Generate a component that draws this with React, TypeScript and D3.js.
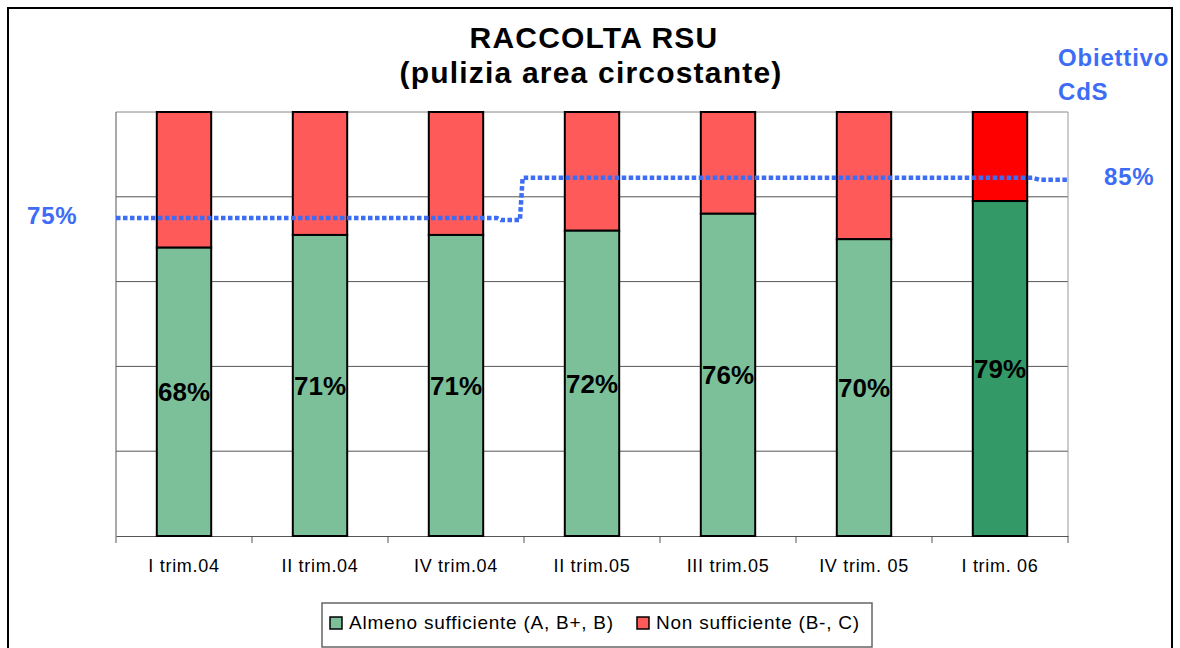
import React, { useRef, useEffect } from "react";
import * as d3 from "d3";

const categories = [
  "I trim.04",
  "II trim.04",
  "IV trim.04",
  "II trim.05",
  "III trim.05",
  "IV trim. 05",
  "I trim. 06",
];
const sufficient = [68, 71, 71, 72, 76, 70, 79];
const notSufficient = [32, 29, 29, 28, 24, 30, 21];
const highlighted = [false, false, false, false, false, false, true];

// objective (CdS) line, x in category units, y in %
const objectiveX = [0, 2.8, 2.83, 2.97, 2.99, 6.74, 6.79, 7];
const objectiveY = [75, 75, 74.5, 74.5, 84.5, 84.5, 84, 84];

const legendLabels = ["Almeno sufficiente (A, B+, B)", "Non sufficiente (B-, C)"];

const W = 1180;
const H = 648;
const FONT = "'Liberation Sans', Arial, sans-serif";
const BLUE = "#3d6cf5";

export default function App() {
  const ref = useRef<SVGSVGElement | null>(null);

  useEffect(() => {
    const svg = d3.select(ref.current);
    svg.selectAll("*").remove();

    const plot = { left: 116, right: 1068, top: 112, bottom: 536 };

    // outer frame
    svg
      .append("rect")
      .attr("x", 8)
      .attr("y", 8)
      .attr("width", 1164)
      .attr("height", 660)
      .attr("fill", "#fff")
      .attr("stroke", "#000")
      .attr("stroke-width", 2);

    const x = d3
      .scaleBand<string>()
      .domain(categories)
      .range([plot.left, plot.right])
      .paddingInner(0.6)
      .paddingOuter(0.3);
    const xc = d3.scaleLinear().domain([0, 7]).range([plot.left, plot.right]);
    const y = d3.scaleLinear().domain([0, 100]).range([plot.bottom, plot.top]);

    // gridlines
    svg
      .append("g")
      .selectAll("line")
      .data([20, 40, 60, 80, 100])
      .enter()
      .append("line")
      .attr("x1", plot.left)
      .attr("x2", plot.right)
      .attr("y1", (d) => y(d))
      .attr("y2", (d) => y(d))
      .attr("stroke", (d) => (d === 100 ? "#888" : "#555"))
      .attr("stroke-width", 1);

    // plot sides
    svg
      .append("line")
      .attr("x1", plot.left)
      .attr("x2", plot.left)
      .attr("y1", plot.top)
      .attr("y2", plot.bottom)
      .attr("stroke", "#555");
    svg
      .append("line")
      .attr("x1", plot.right)
      .attr("x2", plot.right)
      .attr("y1", plot.top)
      .attr("y2", plot.bottom)
      .attr("stroke", "#999");

    // bottom axis
    const axis = svg
      .append("g")
      .attr("transform", `translate(0,${plot.bottom})`)
      .call(d3.axisBottom(x).tickSize(0).tickPadding(23) as any);
    axis.select(".domain").attr("stroke", "#555");
    axis
      .selectAll("text")
      .attr("font-family", FONT)
      .attr("font-size", 18)
      .attr("letter-spacing", 0.7)
      .attr("fill", "#000");
    axis
      .selectAll(".edge")
      .data(d3.range(8))
      .enter()
      .append("line")
      .attr("class", "edge")
      .attr("x1", (d) => xc(d))
      .attr("x2", (d) => xc(d))
      .attr("y1", 0)
      .attr("y2", 7)
      .attr("stroke", "#555");

    // stacked bars
    const bars = svg.append("g");
    categories.forEach((c, i) => {
      const hi = highlighted[i];
      bars
        .append("rect")
        .attr("x", x(c)!)
        .attr("y", y(sufficient[i] + notSufficient[i]))
        .attr("width", x.bandwidth())
        .attr("height", y(sufficient[i]) - y(sufficient[i] + notSufficient[i]))
        .attr("fill", hi ? "#ff0000" : "#ff5a5a")
        .attr("stroke", "#000")
        .attr("stroke-width", 2);
      bars
        .append("rect")
        .attr("x", x(c)!)
        .attr("y", y(sufficient[i]))
        .attr("width", x.bandwidth())
        .attr("height", y(0) - y(sufficient[i]))
        .attr("fill", hi ? "#339966" : "#7cc09a")
        .attr("stroke", "#000")
        .attr("stroke-width", 2);
      bars
        .append("text")
        .attr("x", x(c)! + x.bandwidth() / 2)
        .attr("y", (y(0) + y(sufficient[i])) / 2)
        .attr("dy", "0.36em")
        .attr("text-anchor", "middle")
        .attr("font-family", FONT)
        .attr("font-weight", "bold")
        .attr("font-size", 26)
        .attr("fill", "#000")
        .text(`${sufficient[i]}%`);
    });

    // objective line
    const line = d3
      .line<number>()
      .x((d, i) => xc(objectiveX[i]))
      .y((d) => y(d));
    svg
      .append("path")
      .datum(objectiveY)
      .attr("fill", "none")
      .attr("stroke", BLUE)
      .attr("stroke-width", 4.5)
      .attr("stroke-dasharray", "4.5 2.5")
      .attr("stroke-linejoin", "round")
      .attr("d", line);

    // title
    const title = svg
      .append("text")
      .attr("text-anchor", "middle")
      .attr("font-family", FONT)
      .attr("font-weight", "bold")
      .attr("font-size", 30)
      .attr("letter-spacing", 1.2)
      .attr("fill", "#000");
    title.append("tspan").attr("x", 594).attr("y", 48).text("RACCOLTA RSU");
    title
      .append("tspan")
      .attr("x", 591)
      .attr("y", 83)
      .text("(pulizia area circostante)");

    // objective labels
    const lab = (t: string, lx: number, ly: number) =>
      svg
        .append("text")
        .attr("x", lx)
        .attr("y", ly)
        .attr("font-family", FONT)
        .attr("font-weight", "bold")
        .attr("font-size", 24)
        .attr("letter-spacing", 0.8)
        .attr("fill", BLUE)
        .text(t);
    lab("Obiettivo", 1058, 66);
    lab("CdS", 1058, 100);
    lab("85%", 1104, 185);
    lab("75%", 27, 224);

    // legend
    const lg = svg.append("g");
    lg.append("rect")
      .attr("x", 322)
      .attr("y", 603)
      .attr("width", 550)
      .attr("height", 44)
      .attr("fill", "#fff")
      .attr("stroke", "#666")
      .attr("stroke-width", 1.5);
    const items = [
      { label: legendLabels[0], color: "#7cc09a", x: 330 },
      { label: legendLabels[1], color: "#ff5a5a", x: 637 },
    ];
    items.forEach((it) => {
      lg.append("rect")
        .attr("x", it.x)
        .attr("y", 617)
        .attr("width", 12)
        .attr("height", 12)
        .attr("fill", it.color)
        .attr("stroke", "#000")
        .attr("stroke-width", 1.5);
      lg.append("text")
        .attr("x", it.x + 19)
        .attr("y", 629)
        .attr("font-family", FONT)
        .attr("font-size", 19)
        .attr("letter-spacing", 0.75)
        .attr("fill", "#000")
        .text(it.label);
    });
  }, []);

  return (
    <svg
      ref={ref}
      width={W}
      height={H}
      style={{ position: "absolute", left: 0, top: 0, background: "#fff" }}
    />
  );
}
